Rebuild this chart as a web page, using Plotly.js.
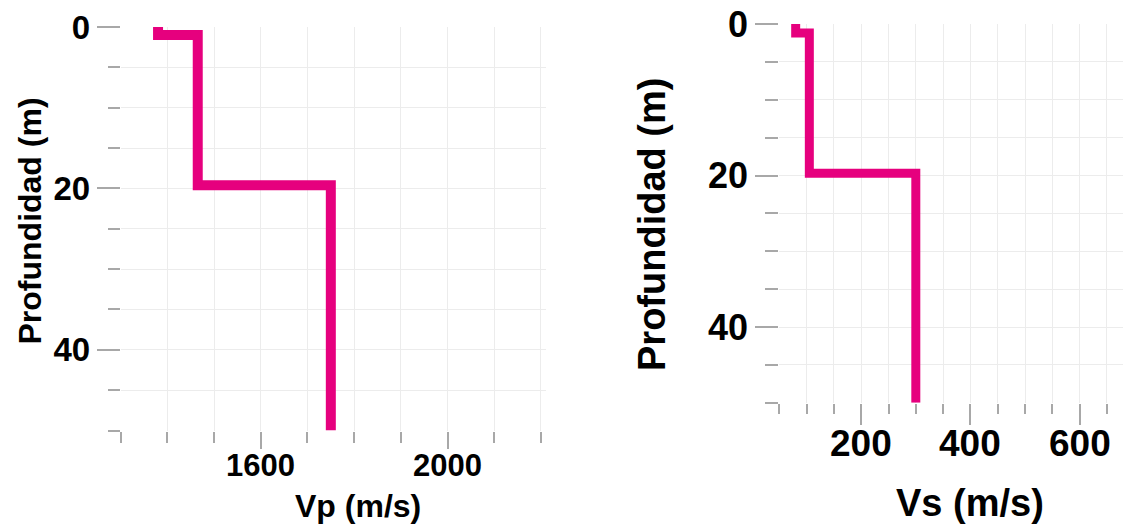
<!DOCTYPE html>
<html>
<head>
<meta charset="utf-8">
<script src="https://cdn.plot.ly/plotly-3.0.1.min.js"></script>
<style>html,body{margin:0;padding:0;background:#fff;}#chart{width:1127px;height:525px;}</style>
</head>
<body>
<div id="chart"></div>
<script>
// Layer tops (m) and velocities, drawn as step profiles
const depthVp = [0, 1.0, 19.6, 50];
const vp = [1380, 1465, 1750, 1750];
const depthVs = [0, 1.2, 19.7, 50];
const vs = [80, 105, 300, 300];

// Tick labels
const vpTicks = [1600, 2000];
const vsTicks = [200, 400, 600];

const titleVp = 'Vp (m/s)';
const titleVs = 'Vs (m/s)';
const titleDepth = 'Profundidad (m)';

const FONT = 'Liberation Sans, Arial, sans-serif';
const LINE = '#e6007e';
const GRID = '#ececec';
const TICK = '#a8a8a8';
const W = 1127, H = 525;

const traces = [
  {x: vp, y: depthVp, type: 'scatter', mode: 'lines', line: {shape: 'vh', color: LINE, width: 10}, xaxis: 'x', yaxis: 'y', cliponaxis: true, hoverinfo: 'none'},
  {x: vs, y: depthVs, type: 'scatter', mode: 'lines', line: {shape: 'vh', color: LINE, width: 9}, xaxis: 'x2', yaxis: 'y2', cliponaxis: true, hoverinfo: 'none'}
];

function axisCommon(size, dtick, ticklen, minorDtick, minorLen) {
  return {
    dtick: dtick, tick0: 0, ticks: 'outside', ticklen: ticklen, tickwidth: 2, tickcolor: TICK,
    showgrid: true, gridcolor: GRID, gridwidth: 1, zeroline: false, showline: false,
    tickfont: {family: FONT, size: size, color: '#000', weight: 'bold'},
    minor: {dtick: minorDtick, tick0: 0, ticks: 'outside', ticklen: minorLen, tickwidth: 2, tickcolor: TICK, showgrid: true, gridcolor: GRID, gridwidth: 1},
    fixedrange: true
  };
}

const tickAnn = [];
vpTicks.forEach(v => tickAnn.push({text: String(v), xref: 'x', yref: 'paper', x: v, y: 1 - 465 / H, xanchor: 'center', yanchor: 'middle', showarrow: false, font: {family: FONT, size: 31, color: '#000', weight: 'bold'}}));
vsTicks.forEach(v => tickAnn.push({text: String(v), xref: 'x2', yref: 'paper', x: v, y: 1 - 443 / H, xanchor: 'center', yanchor: 'middle', showarrow: false, font: {family: FONT, size: 37, color: '#000', weight: 'bold'}}));

const layout = {
  width: W, height: H,
  margin: {l: 0, r: 0, t: 0, b: 0},
  paper_bgcolor: '#fff', plot_bgcolor: '#fff',
  showlegend: false,
  xaxis: Object.assign(axisCommon(31, 400, 17, 100, 11), {domain: [120.7 / W, 545.6 / W], range: [1300, 2210], anchor: 'y', showticklabels: false}),
  yaxis: Object.assign(axisCommon(33, 20, 23, 5, 12), {domain: [(H - 430.5) / H, (H - 27) / H], range: [50, 0], anchor: 'x'}),
  xaxis2: Object.assign(axisCommon(37, 200, 21, 50, 10), {domain: [779.3 / W, 1123.3 / W], range: [50, 680], anchor: 'y2', showticklabels: false}),
  yaxis2: Object.assign(axisCommon(36, 20, 23, 5, 13), {domain: [(H - 402.75) / H, (H - 24) / H], range: [50, 0], anchor: 'x2'}),
  annotations: tickAnn.concat([
    {text: titleVp, xref: 'paper', yref: 'paper', x: 357.5 / W, y: 1 - 506 / H, xanchor: 'center', yanchor: 'middle', showarrow: false, font: {family: FONT, size: 32, color: '#000', weight: 'bold'}},
    {text: titleDepth, xref: 'paper', yref: 'paper', x: 29.5 / W, y: 1 - 221 / H, xanchor: 'center', yanchor: 'middle', textangle: -90, showarrow: false, font: {family: FONT, size: 32, color: '#000', weight: 'bold'}},
    {text: titleVs, xref: 'paper', yref: 'paper', x: 970 / W, y: 1 - 503 / H, xanchor: 'center', yanchor: 'middle', showarrow: false, font: {family: FONT, size: 38, color: '#000', weight: 'bold'}},
    {text: titleDepth, xref: 'paper', yref: 'paper', x: 652 / W, y: 1 - 225 / H, xanchor: 'center', yanchor: 'middle', textangle: -90, showarrow: false, font: {family: FONT, size: 38, color: '#000', weight: 'bold'}}
  ])
};

Plotly.newPlot('chart', traces, layout, {staticPlot: true, displayModeBar: false});
</script>
</body>
</html>
